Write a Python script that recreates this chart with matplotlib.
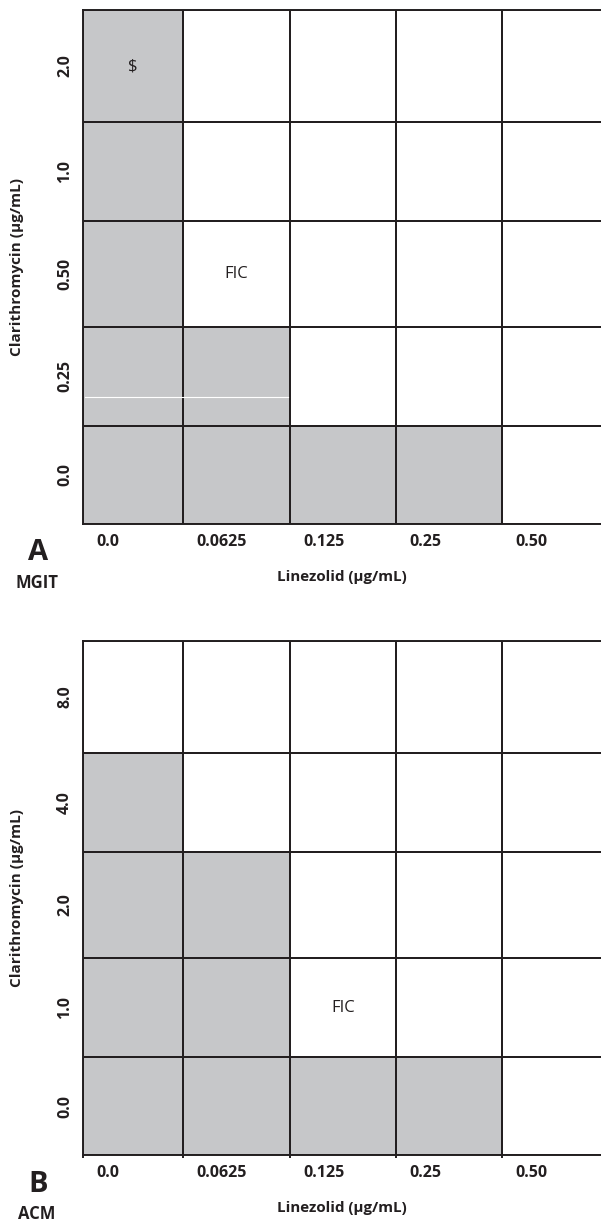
import numpy as np
import matplotlib
matplotlib.use("Agg")
import matplotlib.pyplot as plt
from matplotlib.colors import ListedColormap

plt.rcParams['font.family'] = ['Open Sans', 'DejaVu Sans']

# data
linezolid = ['0.0', '0.0625', '0.125', '0.25', '0.50']
clar_mgit = ['0.0', '0.25', '0.50', '1.0', '2.0']      # bottom -> top
clar_acm = ['0.0', '1.0', '2.0', '4.0', '8.0']
# 1 = growth (grey), rows bottom -> top, columns follow linezolid
growth_mgit = [[1, 1, 1, 1, 0],
               [1, 1, 0, 0, 0],
               [1, 0, 0, 0, 0],
               [1, 0, 0, 0, 0],
               [1, 0, 0, 0, 0]]
growth_acm = [[1, 1, 1, 1, 0],
              [1, 1, 0, 0, 0],
              [1, 1, 0, 0, 0],
              [1, 0, 0, 0, 0],
              [0, 0, 0, 0, 0]]
# (column, row, text)
notes_mgit = [(0, 4, '$'), (1, 2, 'FIC')]
notes_acm = [(2, 1, 'FIC')]

GREY = '#c6c7c9'
INK = '#231f20'
LW = 1.4
W, H = 601, 1221
col_w = [100, 107, 106, 106, 103]   # cell sizes in pixels
row_h = [98, 99, 106, 99, 112]
x_edges = np.concatenate([[0], np.cumsum(col_w)])
y_edges = np.concatenate([[0], np.cumsum(row_h)])

fig = plt.figure(figsize=(W / 100, H / 100), dpi=100)


def panel(top, clar, growth, notes, letter, method, ticks):
    left = 83
    ax = fig.add_axes([left / W, 1 - (top + y_edges[-1]) / H,
                       x_edges[-1] / W, y_edges[-1] / H])
    ax.pcolormesh(x_edges, y_edges, np.array(growth),
                  cmap=ListedColormap(['white', GREY]), vmin=0, vmax=1,
                  edgecolors=INK, linewidth=LW)
    ax.set_xlim(0, x_edges[-1])
    ax.set_ylim(0, y_edges[-1])
    for s in ax.spines.values():
        s.set_color(INK)
        s.set_linewidth(LW)
    ax.spines['right'].set_visible(False)
    if ticks:
        ax.set_xticks(x_edges[:-1])
        ax.set_xticklabels([])
        ax.tick_params(axis='x', length=2, width=LW, color=INK)
    else:
        ax.set_xticks([])
    ax.set_yticks([])

    xc = (x_edges[:-1] + x_edges[1:]) / 2
    yc = (y_edges[:-1] + y_edges[1:]) / 2
    for i, lab in enumerate(linezolid):
        ax.text(x_edges[i] + 13, -18, lab, ha='left', va='center',
                fontsize=11.5, fontweight='bold', color=INK)
    for j, lab in enumerate(clar):
        ax.text(-18, yc[j], lab, ha='center', va='center', rotation=90,
                fontsize=11.5, fontweight='bold', color=INK)
    for c, r, t in notes:
        ax.text(xc[c], yc[r], t, ha='center', va='center',
                fontsize=12, color=INK)
    ax.text(259, -53, 'Linezolid (µg/mL)', ha='center', va='center',
            fontsize=10.9, fontweight='bold', color=INK)
    ax.text(-66, y_edges[-1] / 2, 'Clarithromycin (µg/mL)', ha='center',
            va='center', rotation=90, fontsize=11, fontweight='bold', color=INK)
    ax.text(-45, -29, letter, ha='center', va='center',
            fontsize=21, fontweight='bold', color=INK)
    ax.text(-46, -59, method, ha='center', va='center',
            fontsize=12, fontweight='bold', color=INK)
    return ax


axA = panel(10, clar_mgit, growth_mgit, notes_mgit, 'A', 'MGIT', False)
# thin white scan line across the grey cells of the 0.25 row
axA.plot([2, x_edges[2] - 2], [y_edges[1] + 29, y_edges[1] + 29],
         color='white', linewidth=0.8)
panel(641, clar_acm, growth_acm, notes_acm, 'B', 'ACM', True)

fig.savefig('out.png', dpi=100)
